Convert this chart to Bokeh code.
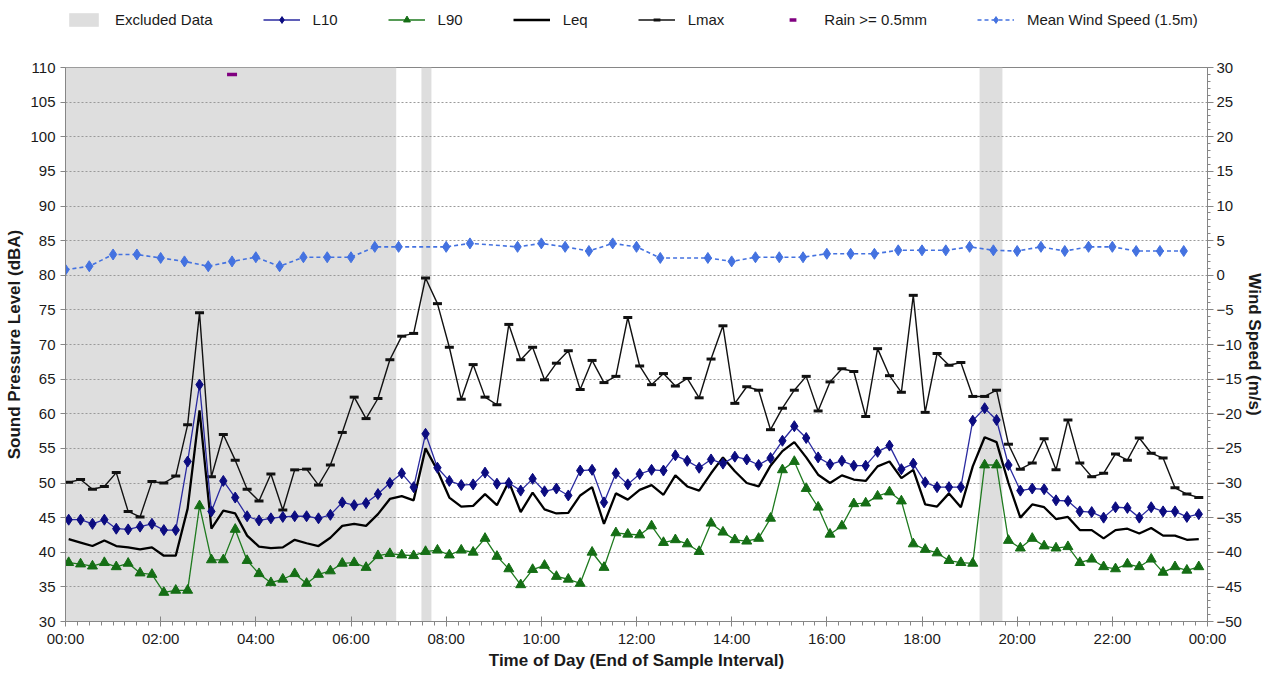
from bokeh.plotting import figure
from bokeh.layouts import column
from bokeh.models import Range1d, LinearAxis, FixedTicker, Legend, LegendItem
from bokeh.embed import file_html
from bokeh.resources import INLINE

FONT = "Liberation Sans"

# ---------------- data ----------------
# sample positions (end of 15-min interval, first at 00:04), in minutes
sample_minutes = [4 + 15 * i for i in range(96)]
sample_hours = [m / 60.0 for m in sample_minutes]

L10 = [44.7, 44.7, 44.1, 44.7, 43.4, 43.3, 43.7, 44.1, 43.2, 43.2,
       53.1, 64.2, 45.9, 50.3, 47.9, 45.2, 44.6, 44.9, 45.1, 45.2,
       45.2, 44.9, 45.4, 47.2, 46.8, 47.1, 48.4, 50.0, 51.4, 49.4,
       57.1, 52.2, 50.3, 49.7, 49.8, 51.5, 49.9, 50.0, 48.9, 50.6,
       48.8, 49.2, 48.2, 51.8, 51.9, 47.2, 51.4, 49.8, 51.3, 51.9,
       51.8, 54.0, 53.2, 52.2, 53.4, 52.8, 53.8, 53.4, 52.6, 53.6,
       56.1, 58.2, 56.5, 53.7, 52.7, 53.2, 52.5, 52.5, 54.5, 55.4,
       52.0, 52.8, 50.1, 49.4, 49.4, 49.4, 59.0, 60.8, 59.1, 52.6,
       48.9, 49.2, 49.1, 47.5, 47.4, 45.9, 45.8, 45.0, 46.5, 46.4,
       45.0, 46.5, 45.9, 45.9, 45.1, 45.5]

L90 = [38.5, 38.3, 38.0, 38.5, 37.9, 38.4, 37.0, 36.8, 34.2, 34.5,
       34.5, 46.7, 38.9, 38.9, 43.3, 38.8, 36.9, 35.6, 36.1, 36.9,
       35.5, 36.8, 37.3, 38.4, 38.5, 37.8, 39.5, 39.8, 39.6, 39.5,
       40.1, 40.3, 39.6, 40.3, 40.0, 42.0, 39.4, 37.6, 35.3, 37.5,
       38.1, 36.5, 36.1, 35.5, 40.0, 37.8, 42.8, 42.6, 42.5, 43.8,
       41.4, 41.8, 41.2, 40.1, 44.2, 42.9, 41.8, 41.6, 42.0, 44.9,
       51.9, 53.1, 49.2, 46.5, 42.6, 43.8, 47.0, 47.1, 48.1, 48.7,
       47.4, 41.2, 40.4, 39.9, 38.8, 38.5, 38.4, 52.6, 52.6, 41.7,
       40.6, 42.0, 40.9, 40.6, 40.8, 38.5, 39.0, 37.9, 37.6, 38.3,
       37.9, 39.0, 37.1, 37.9, 37.4, 37.9]

Leq = [41.9, 41.4, 40.9, 41.7, 40.9, 40.7, 40.4, 40.7, 39.5, 39.5,
       46.3, 60.5, 43.4, 46.0, 45.6, 42.4, 40.8, 40.6, 40.7, 41.8,
       41.3, 40.9, 42.1, 43.8, 44.1, 43.8, 45.5, 47.7, 48.1, 47.5,
       55.0, 51.8, 47.9, 46.6, 46.7, 48.4, 46.8, 50.2, 45.8, 48.6,
       46.2, 45.6, 45.7, 48.2, 49.4, 44.1, 48.5, 47.6, 49.0, 49.7,
       48.3, 51.1, 49.5, 48.9, 51.4, 53.7, 51.7, 50.0, 49.5, 52.5,
       54.6, 55.9, 53.7, 51.2, 50.0, 51.1, 50.5, 50.3, 52.4, 53.1,
       50.7, 51.9, 46.9, 46.6, 48.5, 46.5, 52.4, 56.6, 55.9, 50.0,
       45.0, 46.9, 46.5, 44.8, 45.1, 43.2, 43.2, 42.0, 43.2, 43.4,
       42.7, 43.5, 42.4, 42.4, 41.8, 41.9]

Lmax = [50.1, 50.5, 49.1, 49.5, 51.5, 45.9, 45.1, 50.2, 50.0, 51.0,
        58.4, 74.6, 50.9, 57.0, 53.3, 49.1, 47.4, 51.3, 46.1, 51.9,
        52.0, 49.7, 52.6, 57.3, 62.4, 59.3, 62.2, 67.8, 71.2, 71.6,
        79.6, 75.9, 69.6, 62.1, 67.1, 62.4, 61.3, 72.9, 67.8, 69.6,
        64.9, 67.3, 69.1, 63.5, 67.7, 64.5, 65.4, 73.9, 66.9, 64.2,
        65.8, 64.0, 65.1, 62.3, 67.9, 72.7, 61.5, 63.9, 63.4, 57.7,
        60.8, 63.4, 65.4, 60.4, 64.6, 66.5, 66.1, 59.6, 69.4, 65.5,
        63.1, 77.1, 60.2, 68.7, 67.0, 67.4, 62.5, 62.5, 63.4, 55.6,
        52.0, 52.9, 56.4, 51.9, 59.1, 52.9, 50.9, 51.4, 54.2, 53.3,
        56.5, 54.3, 53.6, 49.3, 48.4, 47.9]

wind_hours = [0, 0.5, 1, 1.5, 2, 2.5, 3, 3.5, 4, 4.5, 5, 5.5, 6, 6.5, 7,
              8, 8.5, 9.5, 10, 10.5, 11, 11.5, 12, 12.5, 13.5, 14, 14.5,
              15, 15.5, 16, 16.5, 17, 17.5, 18, 18.5, 19, 19.5, 20, 20.5,
              21, 21.5, 22, 22.5, 23, 23.5]
wind_speed = [0.8, 1.3, 3.0, 3.0, 2.5, 2.0, 1.3, 2.0, 2.6, 1.3, 2.6, 2.6, 2.6, 4.1, 4.1,
              4.1, 4.6, 4.1, 4.6, 4.1, 3.5, 4.6, 4.1, 2.5, 2.5, 2.0, 2.6,
              2.6, 2.6, 3.1, 3.1, 3.1, 3.6, 3.6, 3.6, 4.1, 3.6, 3.5, 4.1,
              3.5, 4.1, 4.1, 3.5, 3.5, 3.5]

rain_hours = [3.5]
rain_level = [109.0]

excluded_start = [0.0, 7.48, 19.21]
excluded_end = [6.95, 7.69, 19.69]

x_tick_hours = [0, 2, 4, 6, 8, 10, 12, 14, 16, 18, 20, 22, 24]
x_tick_labels = ["00:00", "02:00", "04:00", "06:00", "08:00", "10:00", "12:00",
                 "14:00", "16:00", "18:00", "20:00", "22:00", "00:00"]

legend_labels = ["Excluded Data", "L10", "L90", "Leq", "Lmax",
                 "Rain >= 0.5mm", "Mean Wind Speed (1.5m)"]

# ---------------- styles ----------------
AX = "#868686"
TXT = "#1a1a1a"
C_BAND = "#DEDEDE"
C_WIND = "#4472E0"
C_LMAX = "#111111"
C_LEQ = "#000000"
C_L90_LINE, C_L90 = "#1E7A1E", "#156E15"
C_L10_LINE, C_L10 = "#2A2AA0", "#0C0C80"
C_RAIN = "#800080"


def draw_all(fig):
    """Draw every series on fig and return renderer groups in legend order."""
    band = fig.quad(left=excluded_start, right=excluded_end,
                    bottom=[30] * len(excluded_start), top=[110] * len(excluded_start),
                    fill_color=C_BAND, line_color=None, level="underlay")
    wl = fig.line(wind_hours, wind_speed, y_range_name="wind",
                  line_color=C_WIND, line_width=1.6, line_dash="4 3")
    wp = fig.scatter(wind_hours, wind_speed, y_range_name="wind", marker="diamond",
                     size=11, fill_color=C_WIND, line_color=C_WIND)
    ml = fig.line(sample_hours, Lmax, line_color=C_LMAX, line_width=1.4)
    mp = fig.scatter(sample_hours, Lmax, marker="dash", size=9,
                     line_color=C_LMAX, line_width=3)
    el = fig.line(sample_hours, Leq, line_color=C_LEQ, line_width=2.3)
    nl = fig.line(sample_hours, L90, line_color=C_L90_LINE, line_width=1.3)
    np_ = fig.scatter(sample_hours, L90, marker="triangle", size=10,
                      fill_color=C_L90, line_color=C_L90)
    tl = fig.line(sample_hours, L10, line_color=C_L10_LINE, line_width=1.3)
    tp = fig.scatter(sample_hours, L10, marker="diamond", size=11,
                     fill_color=C_L10, line_color=C_L10)
    rp = fig.scatter(rain_hours, rain_level, marker="dash", size=10,
                     line_color=C_RAIN, line_width=3.5)
    return [[band], [tl, tp], [nl, np_], [el], [ml, mp], [rp], [wl, wp]]


# ---------------- main figure ----------------
LEG_H = 40
p = figure(width=1266, height=673 - LEG_H, output_backend="svg", toolbar_location=None,
           x_range=Range1d(0, 24), y_range=Range1d(30, 110),
           min_border_left=65, min_border_right=59, min_border_top=27,
           min_border_bottom=52)
p.extra_y_ranges = {"wind": Range1d(-50, 30)}
p.background_fill_color = "white"
p.border_fill_color = "white"
p.outline_line_color = AX
p.outline_line_width = 1

xa = p.xaxis[0]
xa.ticker = FixedTicker(ticks=x_tick_hours, minor_ticks=[i * 0.25 for i in range(97)])
xa.major_label_overrides = {h: lab for h, lab in zip(x_tick_hours, x_tick_labels)}
xa.axis_label = "Time of Day (End of Sample Interval)"

ya = p.yaxis[0]
ya.ticker = FixedTicker(ticks=list(range(30, 111, 5)), minor_ticks=[])
ya.axis_label = "Sound Pressure Level (dBA)"

ra = LinearAxis(y_range_name="wind", axis_label="Wind Speed (m/s)",
                ticker=FixedTicker(ticks=list(range(-50, 31, 5)),
                                   minor_ticks=list(range(-50, 31, 1))))
p.add_layout(ra, "right")

for ax in (xa, ya, ra):
    ax.axis_line_color = AX
    ax.major_tick_line_color = AX
    ax.minor_tick_line_color = AX
    ax.major_label_text_font = FONT
    ax.major_label_text_font_size = "15px"
    ax.major_label_text_color = TXT
    ax.axis_label_text_font = FONT
    ax.axis_label_text_font_size = "17px"
    ax.axis_label_text_font_style = "bold"
    ax.axis_label_text_color = TXT

xa.major_tick_in = 5
xa.major_tick_out = 5
xa.minor_tick_in = 0
xa.minor_tick_out = 4
xa.major_label_standoff = 3
xa.axis_label_standoff = 1

ya.major_tick_in = 0
ya.major_tick_out = 5
ya.major_label_standoff = 5
ya.axis_label_standoff = 3

ra.major_tick_in = 0
ra.major_tick_out = 6
ra.minor_tick_in = 0
ra.minor_tick_out = 3
ra.major_label_standoff = 3
ra.axis_label_standoff = 0

p.xgrid.visible = False
p.ygrid.grid_line_color = "#9a9a9a"
p.ygrid.grid_line_dash = "2 2"
p.ygrid.grid_line_width = 1

draw_all(p)

# ---------------- legend strip (separate figure above) ----------------
# same series drawn again, but with y ranges that keep them out of view,
# so that only the legend glyphs of this strip are visible
lf = figure(width=1266, height=LEG_H, output_backend="svg", toolbar_location=None,
            x_range=Range1d(0, 24), y_range=Range1d(-200, -199),
            x_axis_location=None, y_axis_location=None,
            min_border_left=0, min_border_right=0, min_border_top=0, min_border_bottom=0)
lf.extra_y_ranges = {"wind": Range1d(-200, -199)}
lf.grid.visible = False
lf.outline_line_color = None
lf.background_fill_color = "white"
lf.border_fill_color = "white"

groups = draw_all(lf)
legend = Legend(items=[LegendItem(label=lab, renderers=r) for lab, r in zip(legend_labels, groups)],
                orientation="horizontal", location=(0, 12))
legend.label_text_font = FONT
legend.label_text_font_size = "15px"
legend.label_text_color = TXT
legend.label_standoff = 13
legend.glyph_width = 37
legend.glyph_height = 17
legend.label_height = 17
legend.spacing = 50
legend.padding = 0
legend.margin = 0
legend.border_line_color = None
legend.background_fill_alpha = 0
lf.add_layout(legend)

open("out.html", "w").write(file_html(column(lf, p, spacing=0), INLINE))
